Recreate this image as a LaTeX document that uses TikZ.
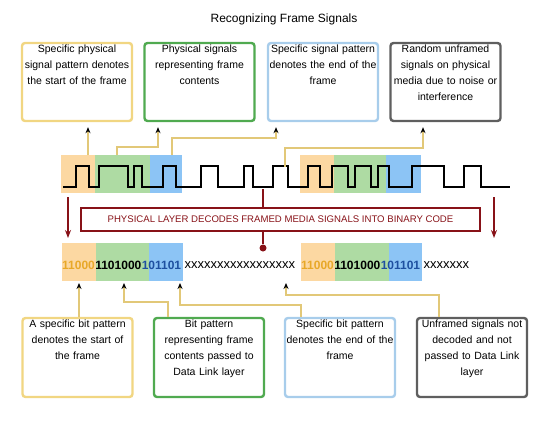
\documentclass[tikz,border=0pt]{standalone}
\usepackage{fontspec}
\setmainfont{Liberation Sans}
\usetikzlibrary{positioning,arrows.meta}
\definecolor{bandorange}{RGB}{252,216,162}
\definecolor{bandgreen}{RGB}{174,219,163}
\definecolor{bandblue}{RGB}{140,196,245}
\definecolor{yellowbox}{RGB}{241,214,130}
\definecolor{greenbox}{RGB}{80,170,80}
\definecolor{bluebox}{RGB}{168,205,235}
\definecolor{graybox}{RGB}{95,95,95}
\definecolor{lineyellow}{RGB}{226,200,120}
\definecolor{darkred}{RGB}{136,18,24}
\definecolor{digitorange}{RGB}{232,168,40}
\definecolor{digitblue}{RGB}{30,80,160}

\begin{document}
\begin{tikzpicture}[x=1pt,y=-1pt,
    infobox/.style={draw, rounded corners=3pt, line width=2.4pt, minimum width=110pt, minimum height=78pt, fill=white},
    boxtext/.style={text width=114pt, align=center, anchor=north, inner sep=0pt, font=\fontsize{10.5}{15.8}\selectfont},
    conn/.style={draw=lineyellow, line width=1.4pt, -{Stealth[black,length=6pt,width=5pt]}, shorten >=5pt},
    redarrow/.style={draw=darkred, line width=1.8pt, -{Stealth[length=8pt,width=6pt]}},
    bits/.style={inner sep=0pt, font=\fontsize{12}{14}\selectfont\bfseries},
    xs/.style={inner sep=0pt, font=\fontsize{13}{14}\selectfont},
    signal/.style={line width=2.2pt, black}
    ]
    \useasboundingbox (0,0) rectangle (556,425);
    \node (title) at (284,19) {\fontsize{12}{14}\selectfont Recognizing Frame Signals};

    \node [infobox,draw=yellowbox] (t1) at (77,82) {};
    \node [infobox,draw=greenbox] (t2) at (199.5,82) {};
    \node [infobox,draw=bluebox] (t3) at (323,82) {};
    \node [infobox,draw=graybox] (t4) at (445.5,82) {};
    \node [boxtext] (t1txt) at ([yshift=-3pt]t1.north) {Specific physical\\signal pattern denotes\\the start of the frame};
    \node [boxtext] (t2txt) at ([yshift=-3pt]t2.north) {Physical signals\\representing frame\\contents};
    \node [boxtext] (t3txt) at ([yshift=-3pt]t3.north) {Specific signal pattern\\denotes the end of the\\frame};
    \node [boxtext] (t4txt) at ([yshift=-3pt]t4.north) {Random unframed\\signals on physical\\media due to noise or\\interference};

    \fill [bandorange] (61,155) rectangle (95,193);
    \fill [bandgreen] (95,155) rectangle (150,193);
    \fill [bandblue] (150,155) rectangle (182,193);
    \fill [bandorange] (300,155) rectangle (334,193);
    \fill [bandgreen] (334,155) rectangle (386,193);
    \fill [bandblue] (386,155) rectangle (421,193);

    \draw [signal] (63,187)
      \foreach \a/\b in {76/89,99/128,134/142,163/176,201/218,244/253,273/288,308/320,332/348,355/371,378/389,412/444,464/481}
        { -- (\a,187) -- (\a,166) -- (\b,166) -- (\b,187) } -- (510,187);

    \coordinate (s1) at (88,155);
    \coordinate (s2) at (117,155);
    \coordinate (s3) at (172,155);
    \coordinate (s4) at (285,167);
    \coordinate (k2) at (158,147);
    \coordinate (k3) at (276,138);
    \coordinate (k4) at (423,148);
    \draw [conn] (s1) -- (s1 |- t1.south);
    \draw [conn] (s2) |- (k2) -- (k2 |- t2.south);
    \draw [conn] (s3) |- (k3) -- (k3 |- t3.south);
    \draw [conn] (s4) |- (k4) -- (k4 |- t4.south);

    \node [draw=darkred, line width=2.4pt, text=darkred, minimum width=399pt, minimum height=23pt,
      font=\fontsize{9.6}{11}\selectfont] (decode) at (280.5,219.5) {PHYSICAL LAYER DECODES FRAMED MEDIA SIGNALS INTO BINARY CODE};
    \node [circle, fill=darkred, inner sep=0pt, minimum size=7pt] (dot) at (263,248) {};
    \coordinate (w) at (263,189);
    \draw [darkred, line width=1.8pt] (w) -- (w |- decode.north);
    \draw [darkred, line width=1.8pt] (dot |- decode.south) -- (dot);
    \coordinate (l1) at (68,197);
    \coordinate (l2) at (68,238);
    \coordinate (r1) at (494,197);
    \coordinate (r2) at (494,238);
    \draw [redarrow] (l1) -- (l2);
    \draw [redarrow] (r1) -- (r2);

    \fill [bandorange] (62,243) rectangle (96,281);
    \fill [bandgreen] (96,243) rectangle (149,281);
    \fill [bandblue] (149,243) rectangle (183,281);
    \fill [bandorange] (301,243) rectangle (335,281);
    \fill [bandgreen] (335,243) rectangle (389,281);
    \fill [bandblue] (389,243) rectangle (422,281);

    \node [bits,text=digitorange,anchor=west] (d1) at (62,265) {11000};
    \node [bits,right=0pt of d1] (d2) {1101000};
    \node [bits,text=digitblue,right=0pt of d2] (d3) {101101};
    \node [xs,right=3pt of d3] (d4) {xxxxxxxxxxxxxxxxx};
    \node [bits,text=digitorange,anchor=west] (e1) at (301,265) {11000};
    \node [bits,right=0pt of e1] (e2) {1101000};
    \node [bits,text=digitblue,right=0pt of e2] (e3) {101101};
    \node [xs,right=3pt of e3] (e4) {xxxxxxx};

    \node [infobox,draw=yellowbox,minimum height=79pt] (b1) at (77.5,357.5) {};
    \node [infobox,draw=greenbox,minimum height=79pt] (b2) at (209,357.5) {};
    \node [infobox,draw=bluebox,minimum height=79pt] (b3) at (340,357.5) {};
    \node [infobox,draw=graybox,minimum height=79pt] (b4) at (472,357.5) {};
    \node [boxtext] (b1txt) at ([yshift=-3pt]b1.north) {A specific bit pattern\\denotes the start of\\the frame};
    \node [boxtext] (b2txt) at ([yshift=-3pt]b2.north) {Bit pattern\\representing frame\\contents passed to\\Data Link layer};
    \node [boxtext] (b3txt) at ([yshift=-3pt]b3.north) {Specific bit pattern\\denotes the end of the\\frame};
    \node [boxtext] (b4txt) at ([yshift=-3pt]b4.north) {Unframed signals not\\decoded and not\\passed to Data Link\\layer};

    \coordinate (p1) at (79,283);
    \coordinate (p2) at (124,302);
    \coordinate (p3) at (180,305);
    \coordinate (p4) at (286,295);
    \coordinate (q2) at (168,302);
    \coordinate (q3) at (301,305);
    \coordinate (q4) at (439,295);
    \draw [conn,shorten >=0pt] (p1 |- b1.north) -- (p1);
    \draw [conn,shorten >=0pt] (q2 |- b2.north) -- (q2) -- (p2) -- ++(0,-19);
    \draw [conn,shorten >=0pt] (q3 |- b3.north) -- (q3) -- (p3) -- ++(0,-22);
    \draw [conn,shorten >=0pt] (q4 |- b4.north) -- (q4) -- (p4) -- ++(0,-12);
  \end{tikzpicture}
\end{document}
